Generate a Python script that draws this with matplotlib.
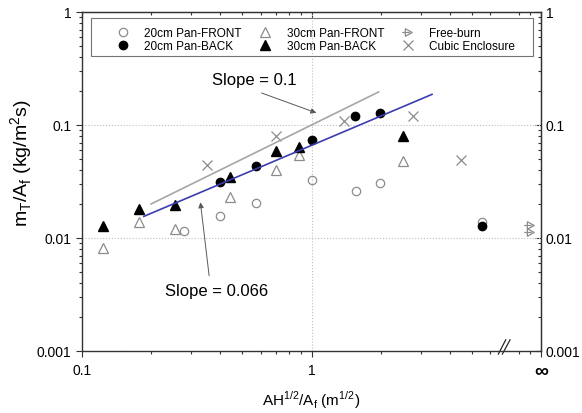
import numpy as np
import matplotlib.pyplot as plt
from matplotlib.path import Path
from matplotlib.patches import Rectangle
from matplotlib.ticker import FixedLocator, NullFormatter
import matplotlib.transforms as mtransforms

plt.rcParams['font.family'] = ['Liberation Sans', 'DejaVu Sans']
plt.rcParams['mathtext.fontset'] = 'custom'
plt.rcParams['mathtext.rm'] = 'Liberation Sans'

# burning rate per fuel area vs opening factor
x_20_front = [0.279, 0.399, 0.571, 1.0, 1.56, 1.98, 5.56]
y_20_front = [0.0116, 0.0156, 0.0204, 0.0328, 0.0259, 0.0305, 0.0138]
x_20_back = [0.399, 0.571, 1.0, 1.55, 1.98, 5.56]
y_20_back = [0.0315, 0.0436, 0.0741, 0.119, 0.128, 0.0127]
x_30_front = [0.124, 0.177, 0.254, 0.443, 0.697, 0.881, 2.5]
y_30_front = [0.0081, 0.0138, 0.0120, 0.0229, 0.0402, 0.0546, 0.0483]
x_30_back = [0.124, 0.177, 0.254, 0.443, 0.697, 0.881, 2.5]
y_30_back = [0.0127, 0.0181, 0.0196, 0.0344, 0.0593, 0.0635, 0.0794]
x_free = [9.0, 9.0]
y_free = [0.0131, 0.0112]
x_cubic = [0.35, 0.697, 1.39, 2.78, 4.47]
y_cubic = [0.0443, 0.0794, 0.109, 0.119, 0.0493]

# correlation lines
slope_gray = 0.1
x_gray = np.array([0.2, 1.96])
slope_blue = 0.066
exp_blue = 0.86
x_blue = np.array([0.186, 3.35])

# free-burn marker: right triangle with a stem
fb_marker = Path([(-0.5, -0.6), (0.6, 0.0), (-0.5, 0.6), (-0.5, -0.6), (-1.0, 0.0), (0.2, 0.0)],
                 [Path.MOVETO, Path.LINETO, Path.LINETO, Path.CLOSEPOLY, Path.MOVETO, Path.LINETO])

fig = plt.figure(figsize=(5.82, 4.14), dpi=100)
ax = fig.add_axes([82/582, 62/414, 459/582, 339/414])
ax.set_xscale('log')
ax.set_yscale('log')
ax.set_xlim(0.1, 10)
ax.set_ylim(0.001, 1)

gray = '0.55'
h1, = ax.plot(x_20_front, y_20_front, 'o', ms=6, mfc='none', mec=gray, mew=0.9, label='20cm Pan-FRONT')
h2, = ax.plot(x_20_back, y_20_back, 'o', ms=6, mfc='k', mec='k', label='20cm Pan-BACK')
h3, = ax.plot(x_30_front, y_30_front, '^', ms=7, mfc='none', mec=gray, mew=0.9, label='30cm Pan-FRONT')
h4, = ax.plot(x_30_back, y_30_back, '^', ms=7, mfc='k', mec='k', label='30cm Pan-BACK')
h5, = ax.plot(x_free, y_free, ls='none', marker=fb_marker, ms=9, mfc='none', mec=gray, mew=0.9, label='Free-burn')
h6, = ax.plot(x_cubic, y_cubic, 'x', ms=7, mec=gray, mew=0.9, label='Cubic Enclosure')

ax.plot(x_gray, slope_gray * x_gray, color='#a6a6a6', lw=1.2)
ax.plot(x_blue, slope_blue * x_blue ** exp_blue, color='#3c3cb0', lw=1.2)

# slope labels with pointers
arrow = dict(arrowstyle='-|>', color='0.35', lw=0.7, mutation_scale=8, shrinkA=0, shrinkB=0)
ax.annotate('', xy=(1.05, 0.128), xytext=(0.606, 0.192), arrowprops=arrow)
ax.text(0.565, 0.255, 'Slope = 0.1', fontsize=12, ha='center', va='center')
ax.annotate('', xy=(0.328, 0.0207), xytext=(0.358, 0.00464), arrowprops=arrow)
ax.text(0.386, 0.00342, 'Slope = 0.066', fontsize=12, ha='center', va='center')

ax.grid(which='major', ls=':', color='0.75', lw=0.8)

major_x = [0.1, 1, 10]
minor_x = [0.2, 0.3, 0.4, 0.5, 0.6, 0.7, 0.8, 0.9, 2, 3, 4, 5, 6, 8, 9]
major_y = [0.001, 0.01, 0.1, 1]
minor_y = [m * d for d in [0.001, 0.01, 0.1] for m in range(2, 10)]

ax.set_xticks(major_x, ['0.1', '1', '\u221e'])
ax.xaxis.set_minor_locator(FixedLocator(minor_x))
ax.xaxis.set_minor_formatter(NullFormatter())
ax.set_yticks(major_y, ['0.001', '0.01', '0.1', '1'])
ax.yaxis.set_minor_locator(FixedLocator(minor_y))
ax.yaxis.set_minor_formatter(NullFormatter())
ax.tick_params(which='both', direction='out', top=False, right=False, labelsize=10, width=0.8, color='0.2')
ax.tick_params(which='major', length=4)
ax.tick_params(which='minor', length=2.5)
ax.tick_params(axis='x', pad=5)
inf_label = ax.get_xticklabels()[-1]
inf_label.set_fontsize(14)
inf_label.set_fontweight('bold')

for s in ax.spines.values():
    s.set_linewidth(1.0)
    s.set_color('0.2')

# mirrored axes, ticks pointing inward
secx = ax.secondary_xaxis('top')
secx.set_xticks(major_x)
secx.xaxis.set_minor_locator(FixedLocator(minor_x))
secx.tick_params(which='both', direction='in', labeltop=False, width=0.8, color='0.2')
secx.tick_params(which='major', length=4)
secx.tick_params(which='minor', length=2.5)
secx.spines['top'].set_color('0.2')

secy = ax.secondary_yaxis('right')
secy.set_yticks(major_y, ['0.001', '0.01', '0.1', '1'])
secy.yaxis.set_minor_locator(FixedLocator(minor_y))
secy.yaxis.set_minor_formatter(NullFormatter())
secy.tick_params(which='both', direction='in', labelsize=10, width=0.8, color='0.2')
secy.tick_params(which='major', length=4)
secy.tick_params(which='minor', length=2.5)
secy.spines['right'].set_color('0.2')

# axis break marks
brk = mtransforms.blended_transform_factory(ax.transData, ax.transAxes)
ax.plot([6.52, 7.02], [-0.009, 0.033], color='0.15', lw=0.9, transform=brk, clip_on=False)
ax.plot([6.79, 7.33], [-0.009, 0.033], color='0.15', lw=0.9, transform=brk, clip_on=False)

ax.set_xlabel(r'AH$^\mathregular{1/2}$/A$_\mathregular{f}$ (m$^\mathregular{1/2}$)', fontsize=11, labelpad=6)
ax.set_ylabel(r'm$_\mathregular{T}$/A$_\mathregular{f}$ (kg/m$^\mathregular{2}$s)', fontsize=14)
ax.yaxis.set_label_coords(-0.103, 0.557)

leg = ax.legend(handles=[h1, h2, h3, h4, h5, h6], ncol=3, loc='upper left',
                bbox_to_anchor=(0.0765, 0.956), frameon=False, fontsize=8.5,
                handlelength=1.0, handletextpad=1.28, columnspacing=1.53,
                labelspacing=0.1, borderpad=0, borderaxespad=0)
ax.add_patch(Rectangle((0.0196, 0.870), 0.963, 0.1123, transform=ax.transAxes,
                       fill=False, ec='0.45', lw=0.8, zorder=5))

fig.savefig('out.png', dpi=100)
